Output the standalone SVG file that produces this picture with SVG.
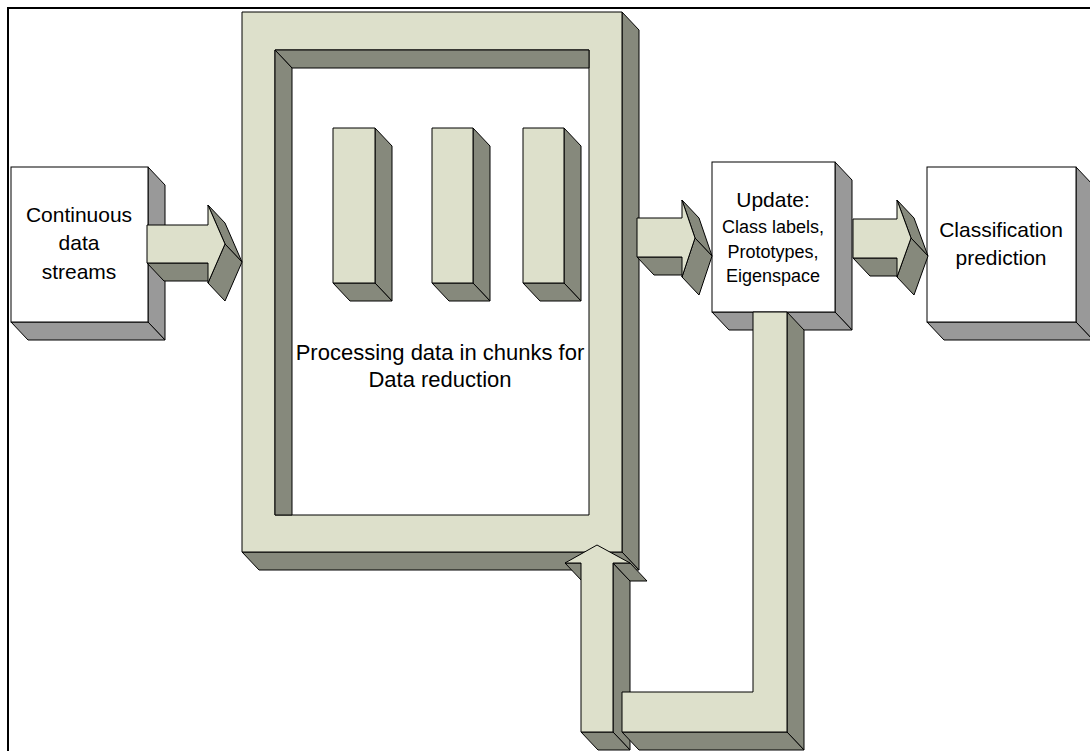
<svg xmlns="http://www.w3.org/2000/svg" width="1090" height="751" viewBox="0 0 1090 751">
<style>
.f{fill:#dde0cb;stroke:#000;stroke-width:1;stroke-linejoin:round}
.s{fill:#86897c;stroke:#000;stroke-width:1;stroke-linejoin:round}
.w{fill:#fff;stroke:#000;stroke-width:1}
.g{fill:#999;stroke:#000;stroke-width:1;stroke-linejoin:round}
text{font-family:"Liberation Sans",Arial,sans-serif;fill:#000;text-anchor:middle}
</style>
<rect x="0" y="0" width="1090" height="751" fill="#fff"/>
<rect x="8" y="8" width="1100" height="800" fill="none" stroke="#000" stroke-width="2"/>

<g id="processing-frame">
  <polygon class="s" points="622,12 639,30 639,570 622,552"/>
  <polygon class="s" points="242,552 622,552 639,570 259,570"/>
  <path class="f" fill-rule="evenodd" d="M242,12 H622 V552 H242 Z M275,50 H589 V515 H275 Z"/>
  <polygon class="s" points="275,50 589,50 589,68 292,68"/>
  <polygon class="s" points="275,50 292,68 292,515 275,515"/>
  <g id="chunk1">
    <polygon class="s" points="375,128 392,146 392,301 375,283"/>
    <polygon class="s" points="333,283 375,283 392,301 350,301"/>
    <rect class="f" x="333" y="128" width="42" height="155"/>
  </g>
  <g id="chunk2">
    <polygon class="s" points="473,128 490,146 490,301 473,283"/>
    <polygon class="s" points="432,283 473,283 490,301 449,301"/>
    <rect class="f" x="432" y="128" width="41" height="155"/>
  </g>
  <g id="chunk3">
    <polygon class="s" points="564,128 581,146 581,301 564,283"/>
    <polygon class="s" points="523,283 564,283 581,301 540,301"/>
    <rect class="f" x="523" y="128" width="41" height="155"/>
  </g>
  <text x="440" y="360" font-size="22">Processing data in chunks for</text>
  <text x="440" y="387" font-size="22">Data reduction</text>
</g>

<g id="continuous">
  <polygon class="g" points="148,167 165,185 165,340 148,322"/>
  <polygon class="g" points="11,322 148,322 165,340 28,340"/>
  <rect class="w" x="11" y="167" width="137" height="155"/>
  <text x="79" y="222" font-size="21">Continuous</text>
  <text x="79" y="250" font-size="21">data</text>
  <text x="79" y="279" font-size="21">streams</text>
</g>

<g id="update">
  <polygon class="g" points="835,162 852,180 852,330 835,312"/>
  <polygon class="g" points="712,312 835,312 852,330 729,330"/>
  <rect class="w" x="712" y="162" width="123" height="150"/>
  <text x="773" y="207" font-size="21">Update:</text>
  <text x="773" y="233" font-size="18">Class labels,</text>
  <text x="773" y="258" font-size="18">Prototypes,</text>
  <text x="773" y="282" font-size="18">Eigenspace</text>
</g>

<g id="classification">
  <polygon class="g" points="1076,167 1093,185 1093,340 1076,322"/>
  <polygon class="g" points="927,322 1076,322 1093,340 944,340"/>
  <rect class="w" x="927" y="167" width="149" height="155"/>
  <text x="1001" y="237" font-size="21">Classification</text>
  <text x="1001" y="265" font-size="21">prediction</text>
</g>

<g id="connectors">
  <g id="arrow-in">
    <polygon class="s" points="147,263 208,263 225,281 164,281"/>
    <polygon class="s" points="208,205 225,244 242,262 225,223"/>
    <polygon class="s" points="225,244 208,283 225,301 242,262"/>
    <polygon class="f" points="147,225 208,225 208,205 225,244 208,283 208,263 147,263"/>
  </g>
  <g id="arrow-to-update">
    <polygon class="s" points="637,257 682,257 699,275 654,275"/>
    <polygon class="s" points="682,200 695,238 712,256 699,218"/>
    <polygon class="s" points="695,238 682,277 699,295 712,256"/>
    <polygon class="f" points="637,218 682,218 682,200 695,238 682,277 682,257 637,257"/>
  </g>
  <g id="arrow-to-classification">
    <polygon class="s" points="853,258 897,258 914,276 870,276"/>
    <polygon class="s" points="897,200 911,238 928,256 914,218"/>
    <polygon class="s" points="911,238 897,277 914,295 928,256"/>
    <polygon class="f" points="853,219 897,219 897,200 911,238 897,277 897,258 853,258"/>
  </g>
  <g id="feedback">
    <polygon class="s" points="613,563 630,581 630,750 613,732"/>
    <polygon class="s" points="581,732 613,732 630,750 598,750"/>
    <polygon class="s" points="613,563 630,563 647,581 630,581"/>
    <polygon class="s" points="565,563 581,563 598,581 582,581"/>
    <polygon class="f" points="581,732 581,563 565,563 597,545 630,563 613,563 613,732"/>
    <polygon class="s" points="787,312 804,330 804,750 787,732"/>
    <polygon class="s" points="622,732 787,732 804,750 639,750"/>
    <polygon class="f" points="753,312 787,312 787,732 622,732 622,692 753,692"/>
  </g>
</g>
</svg>
